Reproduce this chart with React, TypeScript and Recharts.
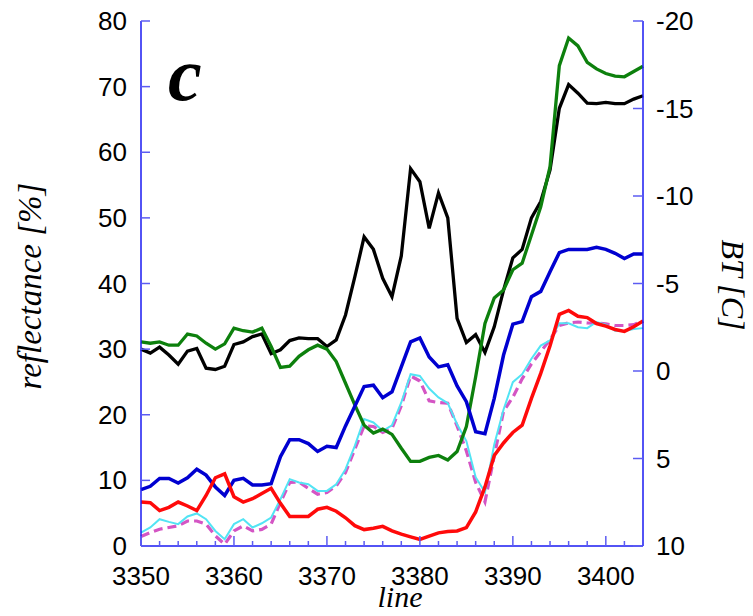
import React from 'react';
import { LineChart, Line, XAxis, YAxis } from 'recharts';

const lines = [
  3350, 3351, 3352, 3353, 3354, 3355, 3356, 3357, 3358, 3359,
  3360, 3361, 3362, 3363, 3364, 3365, 3366, 3367, 3368, 3369,
  3370, 3371, 3372, 3373, 3374, 3375, 3376, 3377, 3378, 3379,
  3380, 3381, 3382, 3383, 3384, 3385, 3386, 3387, 3388, 3389,
  3390, 3391, 3392, 3393, 3394, 3395, 3396, 3397, 3398, 3399,
  3400, 3401, 3402, 3403, 3404,
];

// reflectance [%] (left axis)
const blackRefl = [
  30.0, 29.4, 30.3, 29.1, 27.7, 29.7, 30.1, 27.1, 26.9, 27.4,
  30.7, 31.1, 31.9, 32.3, 29.3, 29.9, 31.3, 31.7, 31.6, 31.6,
  30.4, 31.4, 35.2, 41.0, 47.1, 45.2, 40.8, 38.0, 44.2, 57.5,
  55.5, 48.4, 53.8, 50.0, 34.7, 31.0, 32.2, 29.5, 33.4, 39.0,
  43.9, 45.2, 50.0, 52.5, 57.3, 66.7, 70.3, 69.0, 67.5, 67.4,
  67.6, 67.4, 67.4, 68.1, 68.6,
];
const greenRefl = [
  31.1, 30.9, 31.1, 30.6, 30.6, 32.3, 32.0, 30.9, 30.0, 30.8,
  33.2, 32.8, 32.6, 33.2, 30.4, 27.2, 27.4, 28.9, 29.9, 30.6,
  30.0, 28.1, 24.8, 21.5, 18.4, 17.2, 17.8, 17.0, 14.9, 12.9,
  12.9, 13.5, 13.8, 13.1, 14.4, 18.2, 25.8, 33.9, 37.8, 39.0,
  42.1, 43.1, 47.4, 51.7, 57.8, 73.2, 77.4, 76.2, 73.7, 72.7,
  72.0, 71.6, 71.5, 72.3, 73.1,
];
const blueRefl = [
  8.6, 9.1, 10.3, 10.3, 9.6, 10.4, 11.7, 10.8, 9.0, 7.7,
  10.0, 10.3, 9.3, 9.3, 9.5, 13.6, 16.2, 16.2, 15.6, 14.4,
  15.2, 15.0, 18.3, 21.3, 24.3, 24.5, 22.6, 23.5, 27.3, 31.1,
  31.7, 28.8, 27.3, 27.6, 24.4, 22.0, 17.4, 17.1, 22.5, 29.1,
  33.8, 34.2, 38.0, 38.8, 41.8, 44.7, 45.2, 45.2, 45.2, 45.5,
  45.2, 44.6, 43.8, 44.5, 44.5,
];
const redRefl = [
  6.7, 6.6, 5.4, 5.9, 6.7, 6.1, 5.4, 7.7, 10.4, 11.0,
  7.5, 6.7, 7.2, 8.0, 8.8, 6.5, 4.5, 4.5, 4.5, 5.6,
  5.9, 5.3, 4.3, 3.1, 2.5, 2.7, 3.0, 2.3, 1.8, 1.4,
  1.0, 1.5, 2.0, 2.2, 2.3, 2.8, 5.2, 9.0, 13.8, 15.7,
  17.3, 18.4, 22.5, 26.3, 30.5, 35.3, 35.9, 35.0, 34.8, 33.9,
  33.5, 33.0, 32.7, 33.4, 34.3,
];

// brightness temperature BT [C] (right axis)
const cyanBT = [
  9.23, 8.94, 8.47, 8.62, 8.75, 8.31, 8.14, 8.47, 9.14, 9.61,
  8.75, 8.47, 8.94, 8.7, 8.37, 7.33, 6.18, 6.37, 6.47, 6.85,
  6.85, 6.47, 5.61, 4.28, 2.75, 2.94, 3.42, 3.1, 1.8, 0.18,
  0.28, 1.0, 1.51, 1.84, 3.04, 4.0, 6.07, 6.93, 4.2, 2.2,
  0.64, 0.18, -0.7, -1.45, -1.75, -2.73, -2.73, -2.5, -2.45, -2.8,
  -2.65, -2.3, -2.29, -2.4, -2.45,
];
const magentaBT = [
  9.46, 9.23, 9.04, 8.94, 8.85, 8.57, 8.57, 8.75, 9.42, 9.9,
  9.14, 8.85, 9.14, 9.05, 8.75, 7.51, 6.37, 6.34, 6.71, 7.04,
  6.94, 6.57, 5.8, 4.47, 3.14, 3.17, 3.51, 3.28, 1.99, 0.28,
  0.57, 1.71, 1.8, 1.84, 3.14, 4.57, 6.37, 7.48, 4.85, 2.3,
  1.5, 0.45, -0.4, -1.1, -1.8, -2.6, -2.75, -2.8, -2.75, -2.73,
  -2.7, -2.6, -2.6, -2.65, -2.85,
];

const xMajorTicks = [3350, 3360, 3370, 3380, 3390, 3400];
const xMinorTicks = [3352, 3354, 3356, 3358, 3362, 3364, 3366, 3368, 3372, 3374, 3376, 3378, 3382, 3384, 3386, 3388, 3392, 3394, 3396, 3398, 3402];
const reflTicks = [0, 10, 20, 30, 40, 50, 60, 70, 80];
const btTicks = [-20, -15, -10, -5, 0, 5, 10];

const data = lines.map((line, i) => ({
  line,
  black: blackRefl[i],
  green: greenRefl[i],
  blue: blueRefl[i],
  red: redRefl[i],
  cyan: cyanBT[i],
  magenta: magentaBT[i],
}));

const xTicks = [...xMajorTicks, ...xMinorTicks].sort((a, b) => a - b);

const AXIS = '#1a1af2';
const TICK = '#5c5cf2';
const SANS = '"Liberation Sans", Arial, Helvetica, sans-serif';
const SERIF = '"Liberation Serif", "Times New Roman", serif';
const FS = 26;

const BottomTick = (props: any) => {
  const { x, y, payload } = props;
  const major = xMajorTicks.includes(payload.value);
  return (
    <g>
      <line x1={x} x2={x} y1={y} y2={y - (major ? 10 : 5)} stroke={TICK} strokeWidth={1.5} />
      {major && (
        <text x={x} y={y + 39} textAnchor="middle" fontFamily={SANS} fontSize={FS} fill="#000">
          {payload.value}
        </text>
      )}
    </g>
  );
};

const TopTick = (props: any) => {
  const { x, y, payload } = props;
  const major = xMajorTicks.includes(payload.value);
  return <line x1={x} x2={x} y1={y} y2={y + (major ? 10 : 5)} stroke={TICK} strokeWidth={1.5} />;
};

const LeftTick = (props: any) => {
  const { x, y, payload } = props;
  return (
    <g>
      <line x1={x} x2={x + 9} y1={y} y2={y} stroke={TICK} strokeWidth={1.5} />
      <text x={x - 14} y={y + 9} textAnchor="end" fontFamily={SANS} fontSize={FS} fill="#000">
        {payload.value}
      </text>
    </g>
  );
};

const RightTick = (props: any) => {
  const { x, y, payload } = props;
  return (
    <g>
      <line x1={x} x2={x - 10} y1={y} y2={y} stroke={TICK} strokeWidth={1.5} />
      <text x={x + 13} y={y + 9} textAnchor="start" fontFamily={SANS} fontSize={FS} fill="#000">
        {payload.value}
      </text>
    </g>
  );
};

export default function App() {
  return (
    <div style={{ position: 'relative', width: 753, height: 616 }}>
      <style>{'body{margin:0}'}</style>
      <LineChart
        width={753}
        height={616}
        data={data}
        margin={{ top: 21, right: 0, bottom: 0, left: 0 }}
      >
        <XAxis
          xAxisId="bottom"
          dataKey="line"
          type="number"
          domain={[3350, 3404]}
          ticks={xTicks}
          interval={0}
          height={70}
          tickSize={0}
          tickMargin={0}
          tickLine={false}
          axisLine={{ stroke: AXIS, strokeWidth: 1.5 }}
          tick={<BottomTick />}
        />
        <XAxis
          xAxisId="top"
          orientation="top"
          dataKey="line"
          type="number"
          domain={[3350, 3404]}
          ticks={xTicks}
          interval={0}
          height={0}
          tickSize={0}
          tickMargin={0}
          tickLine={false}
          axisLine={{ stroke: AXIS, strokeWidth: 1.5 }}
          tick={<TopTick />}
        />
        <YAxis
          yAxisId="left"
          type="number"
          domain={[0, 80]}
          ticks={reflTicks}
          interval={0}
          width={141}
          tickSize={0}
          tickMargin={0}
          tickLine={false}
          axisLine={{ stroke: AXIS, strokeWidth: 1.5 }}
          tick={<LeftTick />}
        />
        <YAxis
          yAxisId="right"
          orientation="right"
          type="number"
          domain={[-20, 10]}
          reversed
          ticks={btTicks}
          interval={0}
          width={110}
          tickSize={0}
          tickMargin={0}
          tickLine={false}
          axisLine={{ stroke: AXIS, strokeWidth: 1.5 }}
          tick={<RightTick />}
        />
        <Line xAxisId="top" yAxisId="right" dataKey="magenta" type="linear" stroke="#d455c4" strokeWidth={3.2} strokeDasharray="9 5" dot={false} isAnimationActive={false} />
        <Line xAxisId="top" yAxisId="right" dataKey="cyan" type="linear" stroke="#52e4f4" strokeWidth={2} dot={false} isAnimationActive={false} />
        <Line xAxisId="bottom" yAxisId="left" dataKey="black" type="linear" stroke="#000000" strokeWidth={3.3} dot={false} isAnimationActive={false} />
        <Line xAxisId="bottom" yAxisId="left" dataKey="green" type="linear" stroke="#0d800d" strokeWidth={3.3} dot={false} isAnimationActive={false} />
        <Line xAxisId="bottom" yAxisId="left" dataKey="blue" type="linear" stroke="#0000d0" strokeWidth={3.5} dot={false} isAnimationActive={false} />
        <Line xAxisId="bottom" yAxisId="left" dataKey="red" type="linear" stroke="#ff0a0a" strokeWidth={3.5} dot={false} isAnimationActive={false} />
      </LineChart>
      <svg width={753} height={616} style={{ position: 'absolute', left: 0, top: 0, pointerEvents: 'none' }}>
        <text x={168} y={100} fontFamily={SERIF} fontStyle="italic" fontWeight="bold" fontSize={76} fill="#000">c</text>
        <text x={400} y={607} textAnchor="middle" fontFamily={SERIF} fontStyle="italic" fontSize={30} fill="#000">line</text>
        <text transform="translate(41,286) rotate(-90)" textAnchor="middle" fontFamily={SERIF} fontStyle="italic" fontSize={33} fill="#000">reflectance [%]</text>
        <text transform="translate(722,285) rotate(90)" textAnchor="middle" fontFamily={SERIF} fontStyle="italic" fontSize={32} fill="#000">BT [C]</text>
      </svg>
    </div>
  );
}
